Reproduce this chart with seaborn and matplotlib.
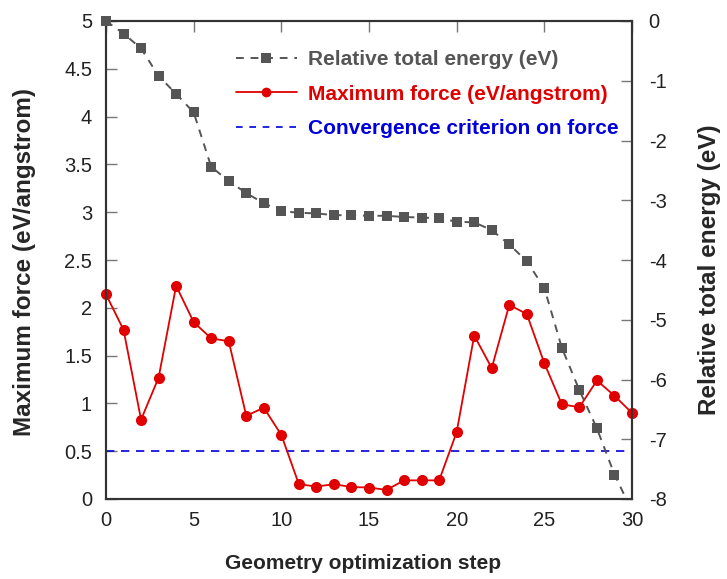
import numpy as np
import pandas as pd
import matplotlib
matplotlib.use("Agg")
import matplotlib.pyplot as plt
import seaborn as sns
from matplotlib.lines import Line2D
from matplotlib.patches import Rectangle

steps = list(range(31))
max_force = [2.14, 1.77, 0.83, 1.27, 2.23, 1.85, 1.68, 1.65, 0.87, 0.955,
             0.67, 0.155, 0.13, 0.155, 0.125, 0.12, 0.095, 0.195, 0.195, 0.195,
             0.70, 1.71, 1.37, 2.03, 1.935, 1.42, 0.99, 0.96, 1.24, 1.08, 0.90]
rel_energy = [0.0, -0.21, -0.46, -0.92, -1.22, -1.53, -2.44, -2.68, -2.88, -3.05,
              -3.18, -3.21, -3.22, -3.25, -3.25, -3.26, -3.26, -3.28, -3.29, -3.30,
              -3.36, -3.37, -3.50, -3.74, -4.02, -4.47, -5.47, -6.18, -6.82, -7.59, -8.2]
criterion = 0.5

force_ticks = [0, 0.5, 1, 1.5, 2, 2.5, 3, 3.5, 4, 4.5, 5]
force_ticklabels = ["0", "0.5", "1", "1.5", "2", "2.5", "3", "3.5", "4", "4.5", "5"]
energy_ticks = [-8, -7, -6, -5, -4, -3, -2, -1, 0]
energy_ticklabels = ["-8", "-7", "-6", "-5", "-4", "-3", "-2", "-1", "0"]
step_ticks = [0, 5, 10, 15, 20, 25, 30]

legend_labels = ["Relative total energy (eV)", "Maximum force (eV/angstrom)",
                 "Convergence criterion on force"]

sns.set_style("white")
plt.rcParams['font.family'] = ['Liberation Sans', 'DejaVu Sans']
plt.rcParams['axes.unicode_minus'] = False

df = pd.DataFrame({"step": steps, "force": max_force, "energy": rel_energy})

GRAY = "#555555"
RED = "#e00000"
BLUE = "#0000dd"
AX = "#333333"

fig = plt.figure(figsize=(7.27, 5.79), dpi=100)
ax = fig.add_axes([106/727, 1-499/579, (632-106)/727, (499-21)/579])
ax2 = ax.twinx()

ax.axhline(criterion, color=BLUE, lw=1.2, ls=(0, (5, 4)), zorder=1)
sns.lineplot(data=df, x="step", y="force", ax=ax, color=RED, lw=1.3,
             marker="o", markersize=8, markeredgewidth=0, zorder=3)
for ln in ax.lines[1:]:
    ln.set_clip_on(False)
sns.lineplot(data=df, x="step", y="energy", ax=ax2, color=GRAY, lw=1.4,
             ls=(0, (4, 3.5)), marker="s", markersize=7.5, markeredgewidth=0,
             zorder=3)
clip_rect = Rectangle((-0.1, 0), 1.2, 1.2, transform=ax2.transAxes)
for ln in ax2.lines:
    ln.set_clip_path(clip_rect)

ax.set_xlim(0, 30)
ax.set_ylim(0, 5)
ax2.set_ylim(-8, 0)
ax.set_xticks(step_ticks)
ax.set_xticklabels([str(s) for s in step_ticks])
ax.set_yticks(force_ticks)
ax.set_yticklabels(force_ticklabels)
ax2.set_yticks(energy_ticks)
ax2.set_yticklabels(energy_ticklabels)

for a in (ax, ax2):
    for s in a.spines.values():
        s.set_color(AX)
        s.set_linewidth(1.5)
ax.tick_params(axis="both", direction="in", length=8, width=1, color="#777777",
               labelsize=14.5, labelcolor="#222222", top=True)
ax.tick_params(axis="x", pad=9)
ax.tick_params(axis="y", pad=10)
ax2.tick_params(axis="y", direction="in", length=8, width=1, color="#777777",
                labelsize=14.5, labelcolor="#222222", pad=12)

ax.set_xlabel("Geometry optimization step", fontsize=15, fontweight="bold")
ax.set_ylabel("Maximum force (eV/angstrom)", fontsize=17.5, fontweight="bold")
ax2.set_ylabel("Relative total energy (eV)", fontsize=17.5, fontweight="bold")
ax.xaxis.set_label_coords(0.489, -0.134)
ax.yaxis.set_label_coords(-0.154, 0.496)
ax2.yaxis.set_label_coords(1.148, 0.48)
ax.xaxis.label.set_va("center")
ax.yaxis.label.set_va("center")
ax2.yaxis.label.set_va("center")

handles = [
    Line2D([], [], color=GRAY, lw=1.4, ls=(0, (4, 3.5)), marker="s", markersize=6.5,
           markeredgewidth=0),
    Line2D([], [], color=RED, lw=1.3, marker="o", markersize=7, markeredgewidth=0),
    Line2D([], [], color=BLUE, lw=1.2, ls=(0, (4, 4))),
]
leg = ax2.legend(handles, legend_labels, loc="upper left",
                 bbox_to_anchor=(0.212, 0.978), frameon=False,
                 prop={"size": 15, "weight": "bold"}, handlelength=2.9,
                 labelspacing=0.74, handletextpad=0.55)
for t, c in zip(leg.get_texts(), [GRAY, RED, BLUE]):
    t.set_color(c)

fig.savefig("out.png", dpi=100)
